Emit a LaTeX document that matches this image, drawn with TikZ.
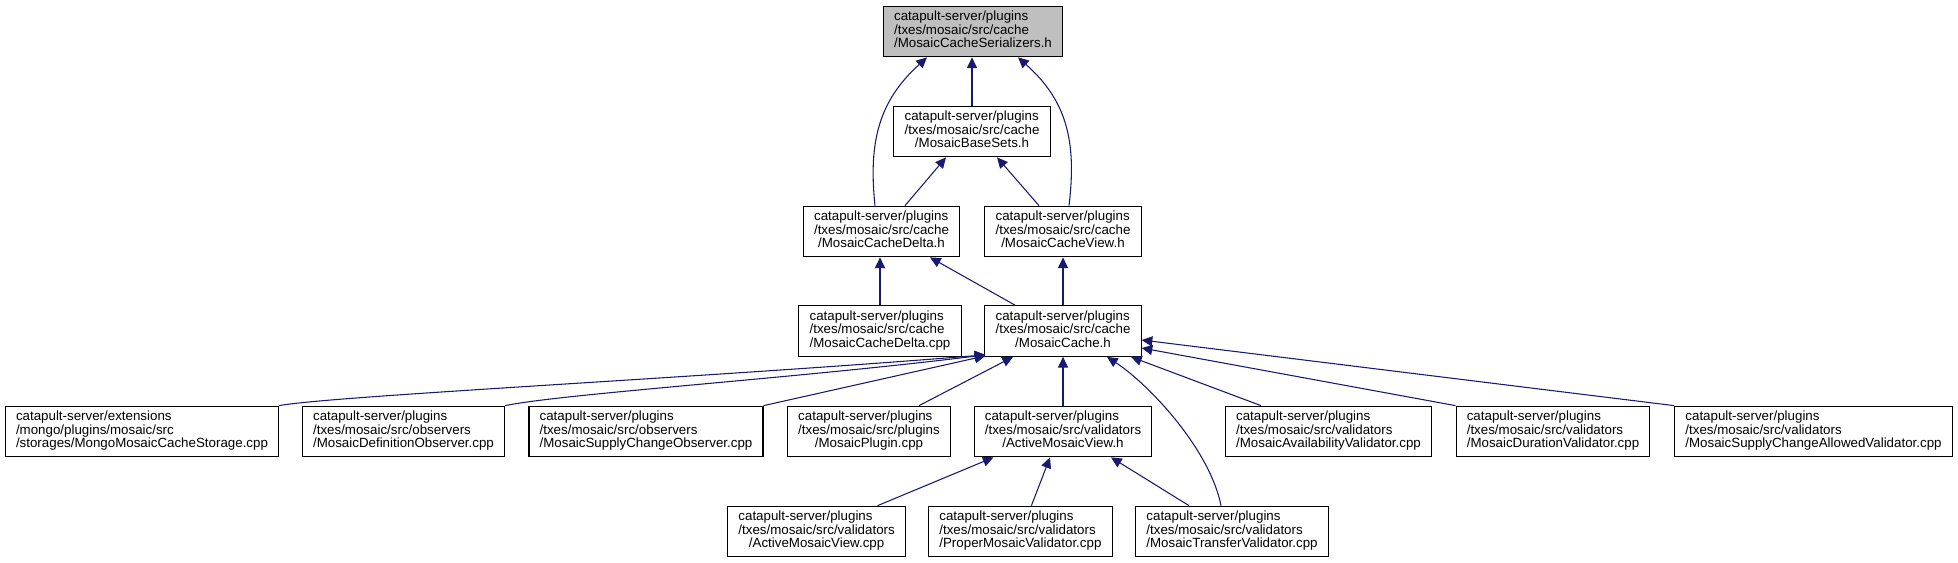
\documentclass[tikz,border=0pt]{standalone}
\usepackage{fontspec}
\setmainfont{Liberation Sans}
\usetikzlibrary{arrows.meta,calc}
\definecolor{edgeblue}{HTML}{191970}
\definecolor{curgray}{HTML}{BFBFBF}
% three-line file label: first two lines left, last line centred
\newcommand{\flbl}[3]{{\fontsize{10}{10}\selectfont\begin{tabular}{@{}l@{}}#1\\#2\\\multicolumn{1}{@{}c@{}}{#3}\end{tabular}}}
\begin{document}
\begin{tikzpicture}[x=0.75pt,y=-0.75pt,
    file/.style={draw=black,line width=0.8pt,fill=white,inner xsep=8pt,inner ysep=0pt,minimum height=38pt},
    cur/.style={file,fill=curgray},
    dep/.style={draw=edgeblue,line width=0.8pt,-{Triangle[length=8pt,width=7.5pt]}}]
    \useasboundingbox (0,0) rectangle (1958,563);

    % bovenste lagen
    \node[cur] (ser) at (973,31.5) {\flbl{catapult-server/plugins}{/txes/mosaic/src/cache}{/MosaicCacheSerializers.h}};
    \node[file] (base) at (972,131.5) {\flbl{catapult-server/plugins}{/txes/mosaic/src/cache}{/MosaicBaseSets.h}};
    \node[file] (delta) at (881.5,231.5) {\flbl{catapult-server/plugins}{/txes/mosaic/src/cache}{/MosaicCacheDelta.h}};
    \node[file] (view) at (1063,231.5) {\flbl{catapult-server/plugins}{/txes/mosaic/src/cache}{/MosaicCacheView.h}};
    \node[file] (deltacpp) at (880,331) {\flbl{catapult-server/plugins}{/txes/mosaic/src/cache}{/MosaicCacheDelta.cpp}};
    \node[file] (cache) at (1063,331) {\flbl{catapult-server/plugins}{/txes/mosaic/src/cache}{/MosaicCache.h}};

    % rij onder MosaicCache.h
    \node[file] (mongo) at (142,431.5) {\flbl{catapult-server/extensions}{/mongo/plugins/mosaic/src}{/storages/MongoMosaicCacheStorage.cpp}};
    \node[file] (defobs) at (403.5,431.5) {\flbl{catapult-server/plugins}{/txes/mosaic/src/observers}{/MosaicDefinitionObserver.cpp}};
    \node[file] (supobs) at (646,431.5) {\flbl{catapult-server/plugins}{/txes/mosaic/src/observers}{/MosaicSupplyChangeObserver.cpp}};
    \node[file] (plugin) at (869,431.5) {\flbl{catapult-server/plugins}{/txes/mosaic/src/plugins}{/MosaicPlugin.cpp}};
    \node[file] (amv) at (1063,431.5) {\flbl{catapult-server/plugins}{/txes/mosaic/src/validators}{/ActiveMosaicView.h}};
    \node[file] (avail) at (1328.5,431.5) {\flbl{catapult-server/plugins}{/txes/mosaic/src/validators}{/MosaicAvailabilityValidator.cpp}};
    \node[file] (dur) at (1553,431.5) {\flbl{catapult-server/plugins}{/txes/mosaic/src/validators}{/MosaicDurationValidator.cpp}};
    \node[file] (allowed) at (1813.5,431.5) {\flbl{catapult-server/plugins}{/txes/mosaic/src/validators}{/MosaicSupplyChangeAllowedValidator.cpp}};

    % onderste rij
    \node[file] (amvcpp) at (816.6,531.5) {\flbl{catapult-server/plugins}{/txes/mosaic/src/validators}{/ActiveMosaicView.cpp}};
    \node[file] (proper) at (1020.4,531.5) {\flbl{catapult-server/plugins}{/txes/mosaic/src/validators}{/ProperMosaicValidator.cpp}};
    \node[file] (transfer) at (1232,531.5) {\flbl{catapult-server/plugins}{/txes/mosaic/src/validators}{/MosaicTransferValidator.cpp}};

    % afhankelijkheden naar boven
    \draw[dep] (base.north) -- (base.north |- ser.south);
    \draw[dep] ($(delta.north)+(-6.5,0)$) .. controls (868,140) and (880,100) .. ($(ser.south)+(-46,0)$);
    \draw[dep] ($(view.north)+(6,0)$) .. controls (1077,140) and (1066,100) .. ($(ser.south)+(45,0)$);
    \draw[dep] ($(delta.north)+(23.5,0)$) -- ($(base.south)+(-26,0)$);
    \draw[dep] ($(view.north)+(-24,0)$) -- ($(base.south)+(25,0)$);
    \draw[dep] (deltacpp.north) -- (deltacpp.north |- delta.south);
    \draw[dep] ($(cache.north)+(-48,0)$) -- ($(delta.south)+(48.5,0)$);
    \draw[dep] (cache.north) -- (view.south);

    % alles wat MosaicCache.h gebruikt
    \draw[dep] (mongo.north east) .. controls (330,396) and (700,378) .. ($(cache.south west)+(1,-2)$);
    \draw[dep] (defobs.north east) .. controls (560,394) and (800,378) .. ($(cache.south west)+(1,-2)$);
    \draw[dep] (supobs.north east) -- ($(cache.south west)+(1,-1)$);
    \draw[dep] ($(plugin.north)+(50,0)$) -- ($(cache.south)+(-50,0)$);
    \draw[dep] (amv.north) -- (cache.south);
    \draw[dep] ($(transfer.north)+(-11,0)$) .. controls (1210,450) and (1150,385) .. ($(cache.south)+(44,0)$);
    \draw[dep] ($(avail.north)+(-67.5,0)$) -- ($(cache.south)+(68,0)$);
    \draw[dep] (dur.north west) -- ($(cache.east)+(0,17)$);
    \draw[dep] (allowed.north west) -- ($(cache.east)+(0,9)$);

    % ActiveMosaicView.h
    \draw[dep] ($(amvcpp.north)+(61,0)$) -- ($(amv.south)+(-69.5,0)$);
    \draw[dep] ($(proper.north)+(11,0)$) -- ($(amv.south)+(-13,0)$);
    \draw[dep] ($(transfer.north)+(-43,0)$) -- ($(amv.south)+(48,0)$);
\end{tikzpicture}
\end{document}
